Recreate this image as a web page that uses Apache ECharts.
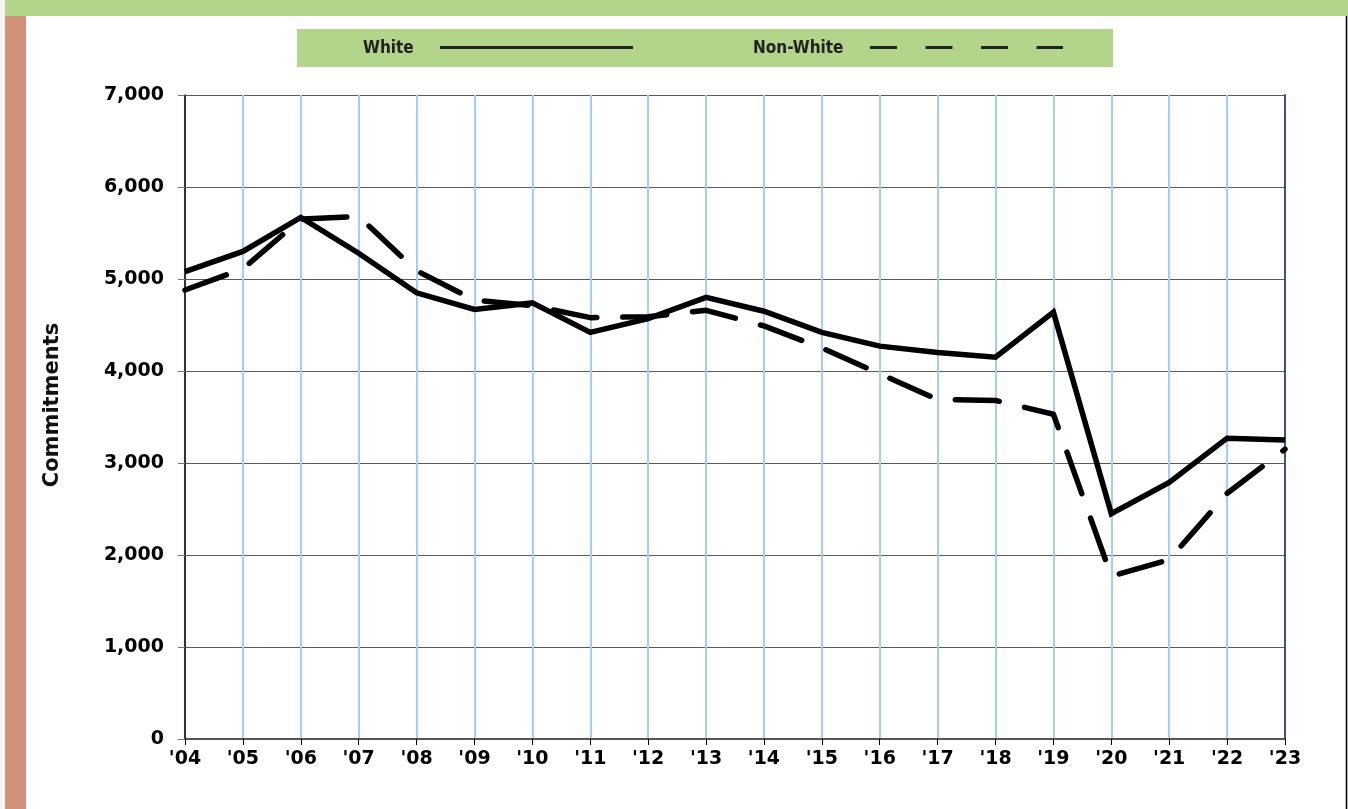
<!DOCTYPE html>
<html>
<head>
<meta charset="utf-8">
<script src="https://cdn.jsdelivr.net/npm/echarts@6/dist/echarts.min.js"></script>
<style>
html,body{margin:0;padding:0;background:#fff;}
#c{width:1348px;height:809px;}
</style>
</head>
<body>
<div id="c"></div>
<script>
const categories = ["'04","'05","'06","'07","'08","'09","'10","'11","'12","'13","'14","'15","'16","'17","'18","'19","'20","'21","'22","'23"];
const whiteValues = [5080,5300,5670,5280,4850,4670,4740,4420,4570,4800,4650,4420,4270,4200,4150,4640,2450,2790,3270,3250];
const nonWhiteValues = [4880,5110,5650,5680,5090,4770,4710,4580,4590,4660,4490,4250,3970,3690,3680,3530,1770,1950,2670,3150];
const seriesNames = ['White','Non-White'];
const yAxisTitle = 'Commitments';

const FONT = "'DejaVu Sans', Verdana, sans-serif";
const chart = echarts.init(document.getElementById('c'), null, {renderer:'canvas'});
chart.setOption({
  animation:false,
  backgroundColor:'#ffffff',
  grid:{left:185, top:95, right:63, bottom:70, containLabel:false},
  xAxis:[{
    type:'category', data:categories, boundaryGap:false, position:'bottom',
    axisLine:{show:true, lineStyle:{color:'#000', width:1.5}},
    axisTick:{show:true, length:6, alignWithLabel:true, lineStyle:{color:'#000', width:1}},
    axisLabel:{margin:11, color:'#000', fontFamily:FONT, fontWeight:'bold', fontSize:19},
    splitLine:{show:true, interval:0, lineStyle:{color:'#a3cdf7', width:2}}
  },{
    type:'category', data:categories, boundaryGap:false, position:'top',
    axisLine:{show:true, lineStyle:{color:'#555', width:2}},
    axisTick:{show:false}, axisLabel:{show:false}, splitLine:{show:false}
  }],
  yAxis:[{
    type:'value', min:0, max:7000, interval:1000, position:'left',
    axisLine:{show:true, lineStyle:{color:'#000', width:1.5}},
    axisTick:{show:true, length:7, lineStyle:{color:'#777', width:1}},
    axisLabel:{margin:21, color:'#000', fontFamily:FONT, fontWeight:'bold', fontSize:19,
      formatter:v=>v.toLocaleString('en-US')},
    splitLine:{show:true, lineStyle:{color:'#5a5a5a', width:1}}
  },{
    type:'value', min:0, max:7000, interval:1000, position:'right',
    axisLine:{show:true, lineStyle:{color:'#3f5573', width:2}},
    axisTick:{show:false}, axisLabel:{show:false}, splitLine:{show:false}
  }],
  series:[{
    name:seriesNames[0], type:'line', data:whiteValues, showSymbol:false, symbol:'none',
    lineStyle:{color:'#000', width:5.5, join:'miter'}, z:3
  },{
    name:seriesNames[1], type:'line', data:nonWhiteValues, showSymbol:false, symbol:'none',
    lineStyle:{color:'#000', width:5.5, type:[44,26], cap:'round', join:'round'}, z:4
  }],
  graphic:[
    {type:'rect', silent:true, shape:{x:0,y:0,width:1348,height:809}, style:{fill:'#f4f4f4'}, z:-20},
    {type:'rect', silent:true, shape:{x:5,y:16,width:1341,height:793}, style:{fill:'#ffffff'}, z:-19},
    {type:'rect', silent:true, shape:{x:5,y:0,width:1343,height:16}, style:{fill:'#b2d58b'}, z:-10},
    {type:'rect', silent:true, shape:{x:5,y:16,width:21,height:793}, style:{fill:'#d2917a'}, z:-10},
    {type:'line', silent:true, shape:{x1:1346.5,y1:16,x2:1346.5,y2:809}, style:{stroke:'#000', lineWidth:1.5}},
    {type:'rect', silent:true, shape:{x:297,y:29,width:816,height:38}, style:{fill:'#b2d58b'}},
    {type:'text', silent:true, x:363, y:49, style:{text:seriesNames[0], fill:'#222', font:"bold 17px 'DejaVu Sans Condensed', 'DejaVu Sans', sans-serif", textAlign:'left', textVerticalAlign:'middle'}},
    {type:'line', silent:true, shape:{x1:440,y1:47.5,x2:633,y2:47.5}, style:{stroke:'#222', lineWidth:3}},
    {type:'text', silent:true, x:753, y:49, style:{text:seriesNames[1], fill:'#222', font:"bold 17px 'DejaVu Sans Condensed', 'DejaVu Sans', sans-serif", textAlign:'left', textVerticalAlign:'middle'}},
    {type:'line', silent:true, shape:{x1:870,y1:47.5,x2:1063,y2:47.5}, style:{stroke:'#222', lineWidth:3, lineDash:[27,28.5]}},
    {type:'text', silent:true, x:53, y:405, rotation:Math.PI/2, style:{text:yAxisTitle, fill:'#111', font:"bold 21px 'DejaVu Sans', Verdana, sans-serif", textAlign:'center', textVerticalAlign:'middle'}}
  ]
});
</script>
</body>
</html>
